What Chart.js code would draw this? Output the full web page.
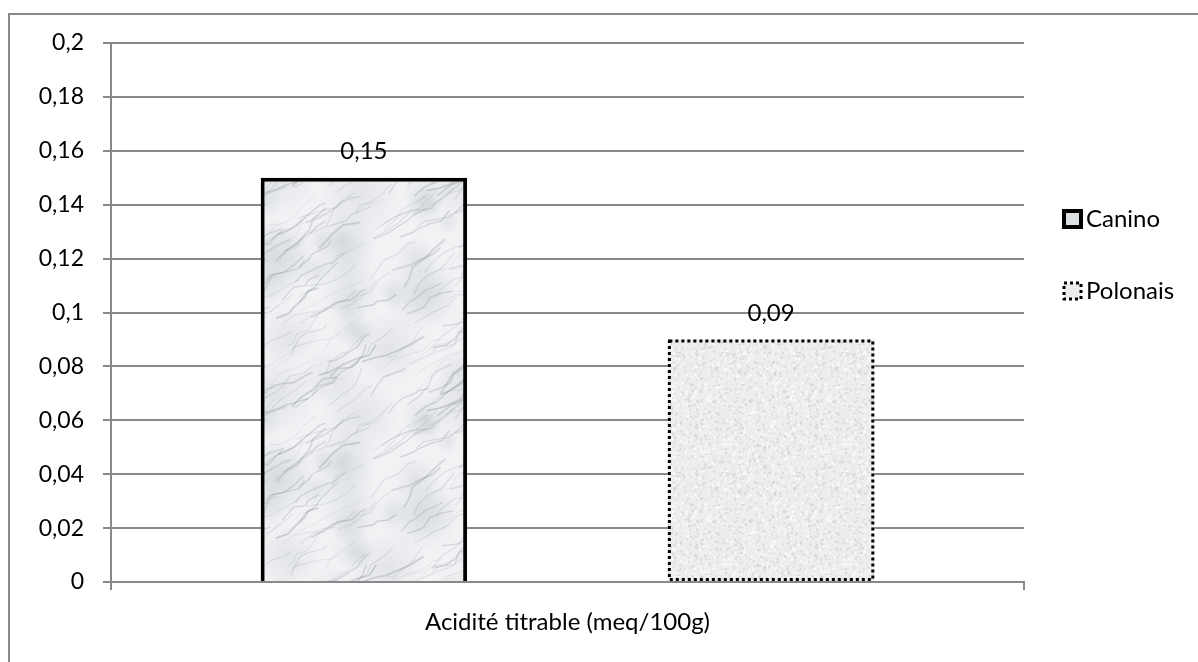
<!DOCTYPE html>
<html>
<head>
<meta charset="utf-8">
<script src="https://cdn.jsdelivr.net/npm/chart.js@4/dist/chart.umd.min.js"></script>
<style>
  body { margin: 0; background: #fff; overflow: hidden; }
  canvas { display: block; }
</style>
</head>
<body>
<canvas id="acidityChart" width="1198" height="662"></canvas>
<script>
// Données
const categories = ['Acidité titrable (meq/100g)']
const varieties = ['Canino', 'Polonais']
const caninoValues = [0.15]
const polonaisValues = [0.09]
const yTicks = [0, 0.02, 0.04, 0.06, 0.08, 0.1, 0.12, 0.14, 0.16, 0.18, 0.2]

const FONT = 'Lato, "Open Sans", sans-serif'
const GRID = '#898989'

// petit générateur pour les textures (décor seulement)
function seeded(seed) {
  let s = seed
  return () => { s = (s * 16807) % 2147483647; return s / 2147483647 }
}

// dessine une forme répétée aux bords pour une tuile sans raccord
function wrapped(size, draw) {
  for (let dx = -size; dx <= size; dx += size) {
    for (let dy = -size; dy <= size; dy += size) draw(dx, dy)
  }
}

function marblePattern() {
  const T = 220
  let c = document.createElement('canvas')
  c.width = T; c.height = T
  let g = c.getContext('2d')
  g.fillStyle = '#f1f2f4'
  g.fillRect(0, 0, T, T)
  let rnd = seeded(12345)
  // nuages gris
  for (let i = 0; i < 30; i++) {
    let x = rnd() * T, y = rnd() * T, r = 10 + rnd() * 30
    wrapped(T, (dx, dy) => {
      let grad = g.createRadialGradient(x + dx, y + dy, 0, x + dx, y + dy, r)
      grad.addColorStop(0, 'rgba(190,195,202,0.3)')
      grad.addColorStop(1, 'rgba(190,195,202,0)')
      g.fillStyle = grad
      g.fillRect(x + dx - r, y + dy - r, 2 * r, 2 * r)
    })
  }
  // veines
  for (let i = 0; i < 110; i++) {
    let alpha = 0.08 + rnd() * 0.22
    let lw = 0.5 + rnd() * 1.5
    let pts = [[rnd() * T, rnd() * T]]
    for (let k = 0; k < 5; k++) {
      let p = pts[pts.length - 1]
      pts.push([p[0] + 3 + rnd() * 12, p[1] - 1 - rnd() * 10])
    }
    g.strokeStyle = 'rgba(120,125,135,' + alpha + ')'
    g.lineWidth = lw
    wrapped(T, (dx, dy) => {
      g.beginPath()
      pts.forEach((p, k) => k ? g.lineTo(p[0] + dx, p[1] + dy) : g.moveTo(p[0] + dx, p[1] + dy))
      g.stroke()
    })
  }
  return g.createPattern(c, 'repeat')
}

function speckPattern() {
  let c = document.createElement('canvas')
  c.width = 120; c.height = 120
  let g = c.getContext('2d')
  g.fillStyle = '#ededed'
  g.fillRect(0, 0, 120, 120)
  let rnd = seeded(777)
  for (let i = 0; i < 1400; i++) {
    g.fillStyle = rnd() < 0.5 ? 'rgba(205,205,205,0.6)' : 'rgba(252,252,252,0.8)'
    g.fillRect(rnd() * 120, rnd() * 120, 1 + rnd() * 1.5, 1 + rnd() * 1.5)
  }
  return g.createPattern(c, 'repeat')
}

const marble = marblePattern()
const speck = speckPattern()

function fmt(v) {
  return String(Number(v.toFixed(2))).replace('.', ',')
}

// cadre, contour pointillé, étiquettes et légende
const extras = {
  id: 'extras',
  beforeDraw(chart) {
    let ctx = chart.ctx
    ctx.save()
    ctx.strokeStyle = GRID
    ctx.lineWidth = 2
    ctx.strokeRect(9, 14, 1400, 900)
    ctx.restore()
  },
  afterDatasetsDraw(chart) {
    let ctx = chart.ctx
    ctx.save()
    // contour pointillé Polonais
    let bar = chart.getDatasetMeta(1).data[0]
    let left = bar.x - bar.width / 2, right = bar.x + bar.width / 2
    ctx.strokeStyle = '#000'
    ctx.lineWidth = 3
    ctx.setLineDash([3, 3])
    ctx.strokeRect(left + 1.5, bar.y + 1.5, right - left - 3, bar.base - bar.y - 3)
    ctx.setLineDash([])

    // étiquettes de valeur
    ctx.fillStyle = '#000'
    ctx.font = '24px ' + FONT
    ctx.textAlign = 'center'
    ctx.textBaseline = 'middle'
    chart.data.datasets.forEach((ds, i) => {
      chart.getDatasetMeta(i).data.forEach((el, j) => {
        ctx.fillText(fmt(ds.data[j]), el.x, el.y - 26)
      })
    })

    // légende
    let boxX = 1064, rows = [219, 291]
    chart.data.datasets.forEach((ds, i) => {
      let cy = rows[i]
      if (i === 0) {
        ctx.fillStyle = '#dde0e3'
        ctx.fillRect(boxX, cy - 8, 17, 16)
        ctx.strokeStyle = '#000'
        ctx.lineWidth = 4
        ctx.strokeRect(boxX, cy - 8, 17, 16)
      } else {
        ctx.fillStyle = '#ececec'
        ctx.fillRect(boxX, cy - 8, 17, 16)
        ctx.strokeStyle = '#000'
        ctx.lineWidth = 3
        ctx.setLineDash([3, 3])
        ctx.strokeRect(boxX, cy - 8, 17, 16)
        ctx.setLineDash([])
      }
      ctx.fillStyle = '#000'
      ctx.textAlign = 'left'
      ctx.textBaseline = 'middle'
      ctx.fillText(ds.label, 1086, cy)
    })
    ctx.restore()
  }
}

let ctxAcidity = document.getElementById('acidityChart')

new Chart(ctxAcidity, {
  type: 'bar',
  data: {
    labels: categories,
    datasets: [{
      label: varieties[0],
      data: caninoValues,
      backgroundColor: marble,
      borderColor: '#000',
      borderWidth: 4,
      borderSkipped: 'start',
    }, {
      label: varieties[1],
      data: polonaisValues,
      backgroundColor: speck,
      borderWidth: 0,
    }]
  },
  options: {
    responsive: false,
    animation: false,
    categoryPercentage: 0.892,
    barPercentage: 0.507,
    layout: {
      padding: { top: 43, right: 174, left: 0, bottom: 0 }
    },
    plugins: {
      legend: { display: false },
      tooltip: { enabled: false },
    },
    scales: {
      x: {
        afterFit: scale => { scale.height = 80 },
        grid: {
          offset: true,
          drawOnChartArea: false,
          drawTicks: true,
          tickLength: 8,
          color: GRID,
          lineWidth: 2,
        },
        border: { display: true, color: GRID, width: 2 },
        ticks: {
          color: '#000',
          padding: 18,
          font: { family: FONT, size: 24 },
        }
      },
      y: {
        min: 0,
        max: 0.2,
        afterFit: scale => { scale.width = 111 },
        afterBuildTicks: scale => { scale.ticks = yTicks.map(v => ({ value: v })) },
        grid: {
          color: GRID,
          lineWidth: 2,
          tickLength: 8,
        },
        border: { display: true, color: GRID, width: 2 },
        ticks: {
          color: '#000',
          padding: 19,
          font: { family: FONT, size: 23 },
          callback: v => fmt(v),
        }
      }
    }
  },
  plugins: [extras]
});
</script>
</body>
</html>
